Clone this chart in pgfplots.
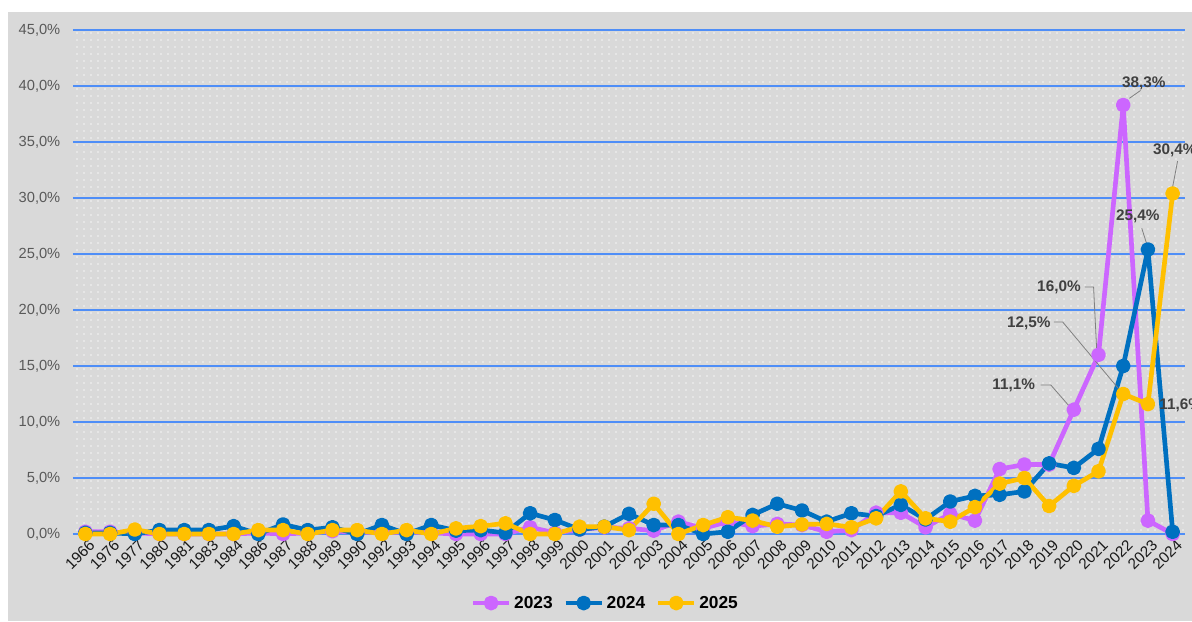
\documentclass[border=0pt]{standalone}
\usepackage{fontspec}
\setmainfont{Liberation Sans}
\usepackage{pgfplots}
\pgfplotsset{compat=1.18}
\usetikzlibrary{patterns.meta}
\definecolor{cP}{HTML}{CC66FF}
\definecolor{cB}{HTML}{0070C0}
\definecolor{cY}{HTML}{FFC000}
\definecolor{bg}{HTML}{D9D9D9}
\definecolor{dotc}{HTML}{F4F4F4}
\definecolor{gridc}{HTML}{4F8EF7}
\definecolor{lbl}{HTML}{404040}
\definecolor{tickc}{HTML}{595959}
\begin{document}
\begin{tikzpicture}
\useasboundingbox (0,0) rectangle (894pt,465.75pt);
\fill[white] (0,0) rectangle (894pt,465.75pt);
\fill[bg] (6pt,0) rectangle (894pt,456.75pt);
\begin{axis}[
  at={(54.75pt,65.25pt)}, anchor=south west,
  scale only axis, width=834pt, height=378pt,
  xmin=-0.5, xmax=44.5, ymin=0, ymax=45,
  clip=false,
  axis line style={draw=none}, tick style={draw=none},
  ytick={0,5,...,45},
  yticklabel={\pgfmathprintnumber[fixed,fixed zerofill,precision=1,use comma]{\tick}\%},
  /pgf/number format/assume math mode=true,
  yticklabel style={font=\fontsize{11}{11}\selectfont, text=tickc, xshift=-6pt},
  xtick={0,...,44},
  xticklabels={1966,1976,1977,1980,1981,1983,1984,1986,1987,1988,1989,1990,1992,1993,1994,1995,1996,1997,1998,1999,2000,2001,2002,2003,2004,2005,2006,2007,2008,2009,2010,2011,2012,2013,2014,2015,2016,2017,2018,2019,2020,2021,2022,2023,2024},
  xticklabel style={rotate=45, anchor=north east, font=\fontsize{11.5}{11.5}\selectfont, text=black!90, inner sep=1pt, yshift=-3pt},
  ymajorgrids, major grid style={gridc, line width=1.1pt},
  axis background/.style={preaction={fill=bg}, pattern={Dots[distance=5.25pt, radius=0.6pt]}, pattern color=dotc},
  every axis plot/.append style={line width=3.5pt, line join=round, mark=*, mark size=3.8pt},
  legend style={at={(0.479,-0.137)}, anchor=center, draw=none, fill=none, legend columns=3,
    font=\bfseries\fontsize{13}{13}\selectfont, /tikz/every even column/.append style={column sep=6pt}},
  legend image code/.code={\draw[#1] (0pt,0pt) -- (27pt,0pt); \draw[#1, only marks] plot coordinates {(13.5pt,0pt)};},
  legend cell align=left,
]
\addplot[color=cP, mark options={solid, fill=cP}] coordinates {
(0,0.2)(1,0.2)(2,0.1)(3,0)(4,0)(5,0)(6,0)(7,0.1)(8,0)(9,0.1)(10,0.25)(11,0.2)(12,0.1)(13,0.2)(14,0.1)
(15,0)(16,0)(17,0)(18,0.6)(19,0.1)(20,0.4)(21,0.6)(22,0.5)(23,0.3)(24,1.1)(25,0.5)(26,1.1)(27,0.7)
(28,0.9)(29,0.8)(30,0.2)(31,0.35)(32,1.9)(33,1.9)(34,0.6)(35,1.8)(36,1.2)(37,5.8)(38,6.2)(39,6.2)
(40,11.1)(41,16.0)(42,38.3)(43,1.2)(44,0.0)};
\addlegendentry{2023}
\addplot[color=cB, mark options={solid, fill=cB}] coordinates {
(0,0.1)(1,0.1)(2,0)(3,0.35)(4,0.35)(5,0.35)(6,0.7)(7,0)(8,0.85)(9,0.35)(10,0.6)(11,0)(12,0.8)(13,0)(14,0.8)
(15,0.3)(16,0.35)(17,0.1)(18,1.85)(19,1.25)(20,0.4)(21,0.65)(22,1.8)(23,0.8)(24,0.8)(25,0)(26,0.2)(27,1.7)
(28,2.7)(29,2.1)(30,1.1)(31,1.85)(32,1.6)(33,2.6)(34,1.3)(35,2.9)(36,3.4)(37,3.5)(38,3.8)(39,6.3)
(40,5.9)(41,7.6)(42,15.0)(43,25.4)(44,0.2)};
\addlegendentry{2024}
\addplot[color=cY, mark options={solid, fill=cY}] coordinates {
(0,0)(1,0)(2,0.4)(3,0)(4,0)(5,0)(6,0)(7,0.35)(8,0.35)(9,0)(10,0.35)(11,0.35)(12,0)(13,0.35)(14,0)
(15,0.5)(16,0.7)(17,0.95)(18,0)(19,0)(20,0.65)(21,0.65)(22,0.35)(23,2.7)(24,0)(25,0.8)(26,1.5)(27,1.2)
(28,0.65)(29,0.85)(30,0.9)(31,0.6)(32,1.4)(33,3.8)(34,1.4)(35,1.1)(36,2.4)(37,4.5)(38,5.0)(39,2.5)
(40,4.3)(41,5.6)(42,12.5)(43,11.6)(44,30.4)};
\addlegendentry{2025}
% data labels
\tikzset{dl/.style={font=\bfseries\fontsize{11.5}{11.5}\selectfont, text=lbl, inner sep=1pt}}
\draw[gray, line width=0.6pt] (axis cs:42.25,38.9) -- (axis cs:42.7,39.6);
\node[dl] at (axis cs:42.83,40.27) {38,3\%};
\draw[gray, line width=0.6pt] (axis cs:44.0,31.0) -- (axis cs:44.2,33.3);
\node[dl] at (axis cs:44.09,34.3) {30,4\%};
\draw[gray, line width=0.6pt] (axis cs:42.75,27.3) -- (axis cs:42.95,25.9);
\node[dl] at (axis cs:42.59,28.4) {25,4\%};
\draw[gray, line width=0.6pt] (axis cs:40.45,22.05) -- (axis cs:40.8,22.05) -- (axis cs:40.93,16.25);
\node[dl] at (axis cs:39.4,22.05) {16,0\%};
\draw[gray, line width=0.6pt] (axis cs:39.19,18.93) -- (axis cs:39.55,18.93) -- (axis cs:41.8,13.0);
\node[dl] at (axis cs:38.18,18.84) {12,5\%};
\draw[gray, line width=0.6pt] (axis cs:38.66,13.3) -- (axis cs:39.07,13.3) -- (axis cs:39.88,11.25);
\node[dl] at (axis cs:37.57,13.3) {11,1\%};
\node[dl, anchor=west] at (axis cs:43.4,11.5) {11,6\%};
\end{axis}
\end{tikzpicture}
\end{document}
